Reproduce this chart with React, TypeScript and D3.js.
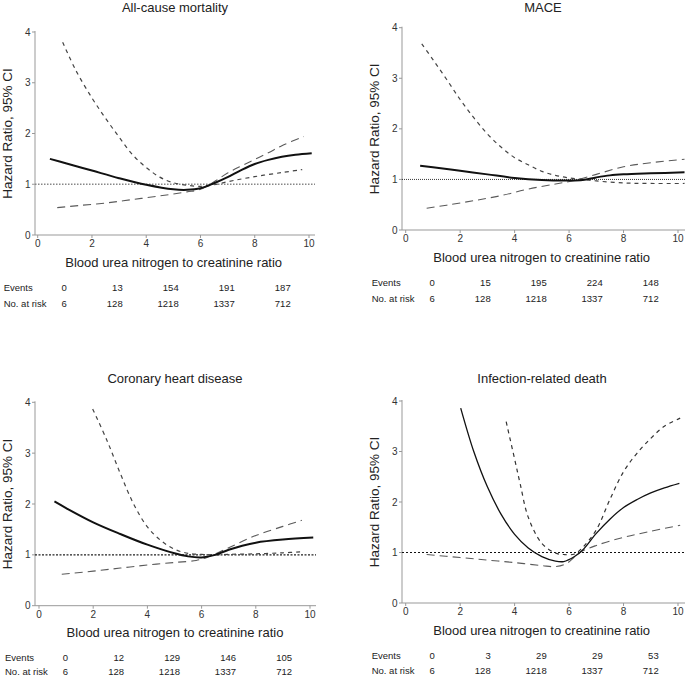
import * as d3 from 'd3';

type Pt = [number, number];

const xTicks = [0, 2, 4, 6, 8, 10];
const yTicks = [0, 1, 2, 3, 4];
const rowNames = ['Events', 'No. at risk'];
const atRisk = [6, 128, 1218, 1337, 712];

// All-cause mortality
const allCauseHR: Pt[] = [[0.45, 1.5], [1, 1.42], [2, 1.27], [3, 1.12], [4, 0.99], [5, 0.9], [5.5, 0.89], [6, 0.92], [6.5, 1.02], [7, 1.14], [7.5, 1.28], [8, 1.4], [8.5, 1.48], [9, 1.54], [9.5, 1.58], [10.1, 1.61]];
const allCauseShort: Pt[] = [[0.92, 3.8], [1.4, 3.25], [2, 2.7], [2.5, 2.3], [3, 1.93], [3.5, 1.58], [4, 1.33], [4.5, 1.14], [5, 1.03], [5.5, 0.98], [6, 0.96], [6.5, 0.99], [7, 1.05], [8, 1.15], [9, 1.23], [9.75, 1.29]];
const allCauseLong: Pt[] = [[0.72, 0.54], [1.5, 0.58], [2.5, 0.63], [3.5, 0.7], [4.5, 0.77], [5.5, 0.85], [6, 0.9], [6.5, 1.05], [7, 1.22], [7.5, 1.36], [8, 1.49], [8.5, 1.62], [9, 1.76], [9.8, 1.94]];
const allCauseEvents = [0, 13, 154, 191, 187];

// MACE
const maceHR: Pt[] = [[0.53, 1.27], [1, 1.24], [2, 1.17], [3, 1.1], [4, 1.03], [5, 0.99], [6, 0.98], [6.5, 0.99], [7, 1.04], [7.5, 1.08], [8, 1.1], [9, 1.12], [10.24, 1.14]];
const maceShort: Pt[] = [[0.59, 3.68], [1, 3.37], [1.5, 2.98], [2, 2.58], [2.5, 2.22], [3, 1.9], [3.5, 1.64], [4, 1.43], [4.5, 1.29], [5, 1.16], [5.5, 1.08], [6, 1.03], [6.5, 1.0], [7, 0.97], [8, 0.93], [9, 0.92], [10.24, 0.92]];
const maceLong: Pt[] = [[0.77, 0.43], [1.5, 0.49], [2.5, 0.58], [3.5, 0.68], [4.5, 0.81], [5.5, 0.91], [6.2, 0.98], [7, 1.1], [8, 1.25], [9, 1.33], [10.24, 1.4]];
const maceEvents = [0, 15, 195, 224, 148];

// Coronary heart disease
const chdHR: Pt[] = [[0.57, 2.05], [1, 1.92], [2, 1.64], [3, 1.41], [4, 1.2], [5, 1.03], [5.5, 0.97], [6, 0.95], [6.5, 1.0], [7, 1.1], [7.5, 1.18], [8, 1.24], [9, 1.3], [10.12, 1.34]];
const chdShort: Pt[] = [[1.98, 3.87], [2.5, 3.26], [3, 2.6], [3.5, 1.99], [4, 1.55], [4.5, 1.28], [5, 1.11], [5.5, 1.03], [6, 1.01], [6.5, 1.0], [7, 1.01], [8, 1.02], [9, 1.04], [9.7, 1.06]];
const chdLong: Pt[] = [[0.84, 0.62], [2, 0.68], [3, 0.74], [4, 0.8], [5, 0.85], [5.8, 0.89], [6.2, 0.95], [7, 1.14], [8, 1.38], [9, 1.56], [9.7, 1.68]];
const chdEvents = [0, 12, 129, 146, 105];

// Infection-related death
const infectionHR: Pt[] = [[2.02, 3.86], [2.5, 3.0], [3, 2.3], [3.5, 1.76], [4, 1.36], [4.5, 1.09], [5, 0.92], [5.5, 0.83], [5.8, 0.82], [6.2, 0.92], [6.5, 1.05], [7, 1.38], [7.5, 1.66], [8, 1.89], [8.5, 2.05], [9, 2.18], [9.5, 2.28], [10.05, 2.37]];
const infectionShort: Pt[] = [[3.69, 3.59], [4, 2.85], [4.2, 2.37], [4.5, 1.7], [5, 1.18], [5.5, 0.99], [5.8, 0.96], [6.2, 0.97], [6.5, 1.1], [7, 1.45], [7.5, 2.05], [8, 2.6], [8.5, 2.97], [9, 3.26], [9.5, 3.5], [10.08, 3.66]];
const infectionLong: Pt[] = [[0.77, 0.96], [2, 0.9], [3, 0.85], [4, 0.8], [5, 0.74], [5.5, 0.72], [5.9, 0.78], [6.4, 1.0], [7, 1.14], [8, 1.3], [9, 1.42], [10.08, 1.54]];
const infectionEvents = [0, 3, 29, 29, 53];

const font = '"Liberation Sans", Arial, sans-serif';

interface Layout {
  x0: number; x10: number; y0: number; y4: number;
  axisX: number; right: number; titleX: number; titleY: number;
  rowY?: number; rowGap?: number;
}

interface PanelProps {
  title: string;
  hr: Pt[]; shortCI: Pt[]; longCI: Pt[];
  events: number[];
  layout: Layout;
  thin?: boolean;
  refStyle: { stroke: string; dash: string; width: number };
}

function Panel({ title, hr, shortCI, longCI, events, layout, thin = false, refStyle }: PanelProps) {
  const { x0, x10, y0, y4, axisX, right, titleX, titleY, rowY = 56.3, rowGap = 16 } = layout;
  const x = d3.scaleLinear().domain([0, 10]).range([x0, x10]);
  const y = d3.scaleLinear().domain([0, 4]).range([y0, y4]);
  // table columns, right aligned
  const col = d3.scaleLinear().domain([0, 4]).range([x0 + 29, x0 + 253]);

  const line = d3.line<Pt>().x(d => x(d[0])).y(d => y(d[1])).curve(d3.curveCatmullRom.alpha(0.5));
  const xLabelX = x0 + 136;

  return (
    <g fontFamily={font}>
      <text x={titleX} y={titleY} textAnchor='middle' fontSize={13} fill='#222'>{title}</text>

      {/* axes */}
      <line x1={axisX} x2={right} y1={y0} y2={y0} stroke='#999' strokeWidth={1} />
      <line x1={axisX} x2={axisX} y1={y(4) - 1} y2={y0} stroke='#999' strokeWidth={1} />
      {xTicks.map(t => (
        <g key={'x' + t}>
          <line x1={x(t)} x2={x(t)} y1={y0} y2={y0 + 3} stroke='#999' />
          <text x={x(t)} y={y0 + 12} textAnchor='middle' fontSize={10} fill='#333'>{t}</text>
        </g>
      ))}
      {yTicks.map(t => (
        <g key={'y' + t}>
          <line x1={axisX - 3} x2={axisX} y1={y(t)} y2={y(t)} stroke='#999' />
          <text x={axisX - 4.5} y={y(t)} dy='0.35em' textAnchor='end' fontSize={10} fill='#333'>{t}</text>
        </g>
      ))}
      <text
        transform={`translate(${axisX - 23},${(y0 + y4) / 2}) rotate(-90)`}
        textAnchor='middle' fontSize={13.5} fill='#222'
      >
        Hazard Ratio, 95% CI
      </text>
      <text x={xLabelX} y={y0 + 31.5} textAnchor='middle' fontSize={13} fill='#222'>
        Blood urea nitrogen to creatinine ratio
      </text>

      {/* reference line at HR = 1 */}
      <line x1={axisX} x2={right} y1={y(1)} y2={y(1)} stroke={refStyle.stroke}
        strokeDasharray={refStyle.dash} strokeWidth={refStyle.width} />

      <path d={line(longCI)!} fill='none' stroke='#5a5a5a' strokeWidth={1.1} strokeDasharray='8,5' />
      <path d={line(shortCI)!} fill='none' stroke={thin ? '#333' : '#444'} strokeWidth={1.2} strokeDasharray='4,4' />
      <path d={line(hr)!} fill='none' stroke='#111' strokeWidth={thin ? 1.3 : 2} />

      {/* events / at-risk table */}
      {[events, atRisk].map((row, r) => (
        <g key={'row' + r} fontSize={9.5} fill='#222'>
          <text x={x0 - 34} y={y0 + rowY + r * rowGap}>{rowNames[r]}</text>
          {row.map((v, i) => (
            <text key={i} x={col(i)} y={y0 + rowY + r * rowGap} textAnchor='end'>{v}</text>
          ))}
        </g>
      ))}
    </g>
  );
}

export default function App() {
  const W = 685, H = 678;
  return (
    <svg width={W} height={H} style={{ position: 'absolute', left: 0, top: 0, background: '#fff' }}>
      <rect width={W} height={H} fill='#fff' />
      <Panel title='All-cause mortality' hr={allCauseHR} shortCI={allCauseShort} longCI={allCauseLong}
        events={allCauseEvents}
        layout={{ x0: 37.7, x10: 309, y0: 235, y4: 32, axisX: 35, right: 315, titleX: 175, titleY: 12 }}
        refStyle={{ stroke: '#888', dash: '1.5,1.5', width: 1.5 }} />
      <Panel title='MACE' hr={maceHR} shortCI={maceShort} longCI={maceLong}
        events={maceEvents}
        layout={{ x0: 405.7, x10: 678, y0: 230, y4: 27.7, axisX: 402, right: 685, titleX: 543, titleY: 12 }}
        refStyle={{ stroke: '#222', dash: '1,1', width: 0.9 }} />
      <Panel title='Coronary heart disease' hr={chdHR} shortCI={chdShort} longCI={chdLong}
        events={chdEvents}
        layout={{ x0: 39, x10: 310, y0: 605.7, y4: 402.3, axisX: 35, right: 316, titleX: 175, titleY: 383, rowY: 55, rowGap: 14.5 }}
        refStyle={{ stroke: '#222', dash: '2,1.5', width: 1.1 }} />
      <Panel title='Infection-related death' hr={infectionHR} shortCI={infectionShort} longCI={infectionLong}
        events={infectionEvents} thin
        layout={{ x0: 405.7, x10: 678, y0: 603, y4: 401, axisX: 402, right: 685, titleX: 542, titleY: 383, rowY: 55.5, rowGap: 15.5 }}
        refStyle={{ stroke: '#111', dash: '2,2', width: 1.1 }} />
    </svg>
  );
}
